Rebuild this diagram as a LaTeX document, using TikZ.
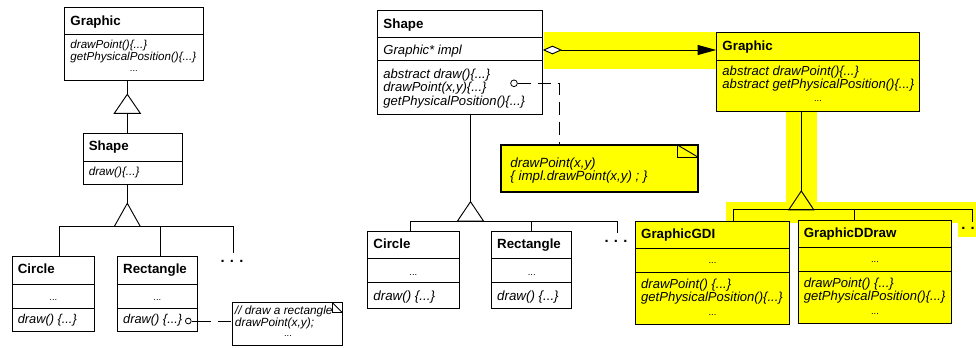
\documentclass[tikz,border=0pt]{standalone}
\usepackage{fontspec}
\setmainfont{Liberation Sans}
\usetikzlibrary{arrows.meta,positioning,fit,calc}

\definecolor{hiyellow}{RGB}{255,255,0}

\tikzset{
  classbox/.style={draw, line width=0.7pt, inner sep=0pt},
  hiclass/.style={classbox, fill=hiyellow},
  title/.style={anchor=base west, inner sep=0pt, font=\fontsize{10}{12}\selectfont\bfseries},
  % multi-line ops sit on the baseline of their last line
  ops/.style={anchor=base west, inner sep=0pt, align=left, font=\fontsize{#1}{#1}\selectfont\itshape},
  ops/.default=9.8,
  elide/.style={anchor=base, inner sep=0pt, font=\fontsize{7}{8}\selectfont},
  more/.style={anchor=base, inner sep=0pt, font=\fontsize{11}{12}\selectfont\bfseries},
  plug/.style={circle, draw, inner sep=0pt, line width=0.6pt},
  linkdash/.style={line width=0.7pt, dash pattern=on 10pt off 5pt},
}

\begin{document}
\begin{tikzpicture}[x=0.75pt, y=-0.75pt, line width=0.7pt]
  \useasboundingbox (0,0) rectangle (976,347);

  % ---------- plain hierarchy (left) ----------
  \node[classbox, fit={(64.3,7.3) (203.3,80)}] (graphicL) {};
  \draw (graphicL.west |- 0,34) -- (graphicL.east |- 0,34);
  \node[title] (graphicLname) at (70,25.5) {Graphic};
  \node[ops=8.7] (graphicLops) at (70,60.5) {drawPoint()\{...\}\\getPhysicalPosition()\{...\}};
  \node[elide] (graphicLmore) at (133.8,71.7) {...};

  \node[classbox, fit={(83.3,133.3) (182.3,184)}] (shapeL) {};
  \draw (shapeL.west |- 0,161) -- (shapeL.east |- 0,161);
  \node[title] (shapeLname) at (88.3,150) {Shape};
  \node[ops=8.8] (shapeLops) at (88.3,175) {draw()\{...\}};

  \coordinate (genA) at (127.3,94.3);
  \coordinate (genAb) at (127.3,113.3);
  \draw (genA |- graphicL.south) -- (genA);
  \draw (genA) -- ++(13,19) -- ++(-26,0) -- cycle;
  \draw (genAb) -- (genAb |- shapeL.north);

  \node[classbox, fit={(12.7,256.7) (94,331.7)}] (circleL) {};
  \draw (circleL.west |- 0,284) -- (circleL.east |- 0,284);
  \draw (circleL.west |- 0,308.3) -- (circleL.east |- 0,308.3);
  \node[title] (circleLname) at (17.3,273.3) {Circle};
  \node[elide] (circleLattr) at (53.3,300) {...};
  \node[ops=9.6] (circleLops) at (17.3,323) {draw() \{...\}};

  \node[classbox, fit={(117.3,256.7) (197.3,331.7)}] (rectL) {};
  \draw (rectL.west |- 0,284) -- (rectL.east |- 0,284);
  \draw (rectL.west |- 0,308.3) -- (rectL.east |- 0,308.3);
  \node[title] (rectLname) at (122.7,273.3) {Rectangle};
  \node[elide] (rectLattr) at (157.3,300) {...};
  \node[ops=9.6] (rectLops) at (122.7,323) {draw() \{...\}};

  \coordinate (genB) at (127.3,203.3);
  \coordinate (genBb) at (127.3,226.5);
  \coordinate (moreL) at (233.3,253);
  \draw (genB |- shapeL.south) -- (genB);
  \draw (genB) -- ++(13,23.2) -- ++(-26,0) -- cycle;
  \draw (59,0 |- circleL.north) |- (moreL |- genBb) -- (moreL);
  \draw (160.7,0 |- rectL.north) -- (160.7,0 |- genBb);
  \node[more] (moreLdots) at (232,262.5) {.\hspace{4pt}.\hspace{4pt}.};

  % note on Rectangle::draw
  \node[classbox, fit={(232.3,302.3) (342,345)}] (noteL) {};
  \draw (332,302.3) |- (342,312.3);
  \draw (332,302.3) -- (342,312.3);
  \node[ops=8.9] (noteLtext) at (234.5,326.7) {// draw a rectangle\\drawPoint(x,y);};
  \node[elide] (noteLmore) at (288,336.7) {...};

  \node[plug, minimum size=4.3pt] (plugL) at (188.3,321) {};
  \draw (plugL.east) -- (rectL.east |- plugL);
  \draw[linkdash] (rectL.east |- plugL) -- (noteL.west |- plugL);

  % ---------- bridge (right) ----------
  \fill[hiyellow] (544,32.3) rectangle (716.7,69);
  \fill[hiyellow] (785.7,111) rectangle (817,202);
  \fill[hiyellow] (725.7,201.7) rectangle (976,222.7);
  \fill[hiyellow] (958,222) rectangle (976,237.3);

  \node[classbox, fit={(377.3,10.7) (542.3,114)}] (shapeR) {};
  \draw (shapeR.west |- 0,37.3) -- (shapeR.east |- 0,37.3);
  \draw (shapeR.west |- 0,60.7) -- (shapeR.east |- 0,60.7);
  \node[title] (shapeRname) at (383,28.3) {Shape};
  \node[ops] (shapeRattr) at (383,54) {Graphic* impl};
  \node[ops] (shapeRops) at (383,105) {abstract draw()\{...\}\\drawPoint(x,y)\{...\}\\getPhysicalPosition()\{...\}};

  \node[hiclass, fit={(716.7,32.3) (919.3,111)}] (graphicR) {};
  \draw (graphicR.west |- 0,60.7) -- (graphicR.east |- 0,60.7);
  \node[title] (graphicRname) at (722,50) {Graphic};
  \node[ops] (graphicRops) at (722,88.5) {abstract drawPoint()\{...\}\\abstract getPhysicalPosition()\{...\}};
  \node[elide] (graphicRmore) at (818,101) {...};

  \draw[{Diamond[length=14.5pt, width=6.5pt, fill=white]}-{Triangle[length=14pt, width=7.5pt]}]
    (shapeR.east |- 0,50) -- (graphicR.west |- 0,50);

  % note on Shape::drawPoint
  \node[classbox, fill=hiyellow, line width=1.5pt, fit={(500.7,145) (698.3,192.3)}] (noteR) {};
  \draw (677.5,145) |- (698.3,157.3);
  \draw (677.5,145) -- (698.3,157.3);
  \node[ops=10] (noteRtext) at (510,180.7) {drawPoint(x,y)\\\{ impl.drawPoint(x,y) ; \}};

  \node[plug, minimum size=5pt] (plugR) at (514,83.3) {};
  \draw[linkdash] (plugR.east) -| (559.3,0 |- noteR.north);

  % Shape subclasses
  \node[classbox, fit={(367.3,231.7) (459.3,308.3)}] (circleR) {};
  \draw (circleR.west |- 0,258.3) -- (circleR.east |- 0,258.3);
  \draw (circleR.west |- 0,282.7) -- (circleR.east |- 0,282.7);
  \node[title] (circleRname) at (373,248.3) {Circle};
  \node[elide] (circleRattr) at (413.3,275) {...};
  \node[ops=10] (circleRops) at (373,300) {draw() \{...\}};

  \node[classbox, fit={(491.7,231.7) (571.7,308.3)}] (rectR) {};
  \draw (rectR.west |- 0,258.3) -- (rectR.east |- 0,258.3);
  \draw (rectR.west |- 0,282.7) -- (rectR.east |- 0,282.7);
  \node[title] (rectRname) at (496.7,248.3) {Rectangle};
  \node[elide] (rectRattr) at (531.7,275) {...};
  \node[ops=10] (rectRops) at (496.7,300) {draw() \{...\}};

  \coordinate (genD) at (470.5,201.7);
  \coordinate (genDb) at (470.5,221);
  \coordinate (moreS) at (617.7,232.7);
  \draw (genD |- shapeR.south) -- (genD);
  \draw (genD) -- ++(13,19.3) -- ++(-26,0) -- cycle;
  \draw (410.7,0 |- circleR.north) |- (moreS |- genDb) -- (moreS);
  \draw (531.7,0 |- rectR.north) -- (531.7,0 |- genDb);
  \node[more] (moreSdots) at (616,242) {.\hspace{4pt}.\hspace{4pt}.};

  % Graphic implementations
  \node[hiclass, fit={(635.7,221.3) (789.3,324.3)}] (gdi) {};
  \draw (gdi.west |- 0,248.3) -- (gdi.east |- 0,248.3);
  \draw (gdi.west |- 0,272.3) -- (gdi.east |- 0,272.3);
  \node[title] (gdiname) at (640.7,238.3) {GraphicGDI};
  \node[elide] (gdiattr) at (712.5,263.3) {...};
  \node[ops] (gdiops) at (640.7,301.7) {drawPoint() \{...\}\\getPhysicalPosition()\{...\}};
  \node[elide] (gdimore) at (712.5,315) {...};

  \node[hiclass, fit={(798.3,220.3) (951.7,323.3)}] (ddraw) {};
  \draw (ddraw.west |- 0,247.3) -- (ddraw.east |- 0,247.3);
  \draw (ddraw.west |- 0,271.3) -- (ddraw.east |- 0,271.3);
  \node[title] (ddrawname) at (803.3,237.3) {GraphicDDraw};
  \node[elide] (ddrawattr) at (875,262.3) {...};
  \node[ops] (ddrawops) at (803.3,300.7) {drawPoint() \{...\}\\getPhysicalPosition()\{...\}};
  \node[elide] (ddrawmore) at (875,314) {...};

  \coordinate (genC) at (801.3,191);
  \coordinate (genCb) at (801.3,209.8);
  \coordinate (moreR) at (972.3,221.7);
  \draw (genC |- graphicR.south) -- (genC);
  \draw (genC) -- ++(12.5,18.8) -- ++(-25,0) -- cycle;
  \draw (733.3,0 |- gdi.north) |- (moreR |- genCb) -- (moreR);
  \draw (854.7,0 |- ddraw.north) -- (854.7,0 |- genCb);
  \node[more] (moreRdots) at (968,229.5) {.\hspace{4pt}.};
\end{tikzpicture}
\end{document}
